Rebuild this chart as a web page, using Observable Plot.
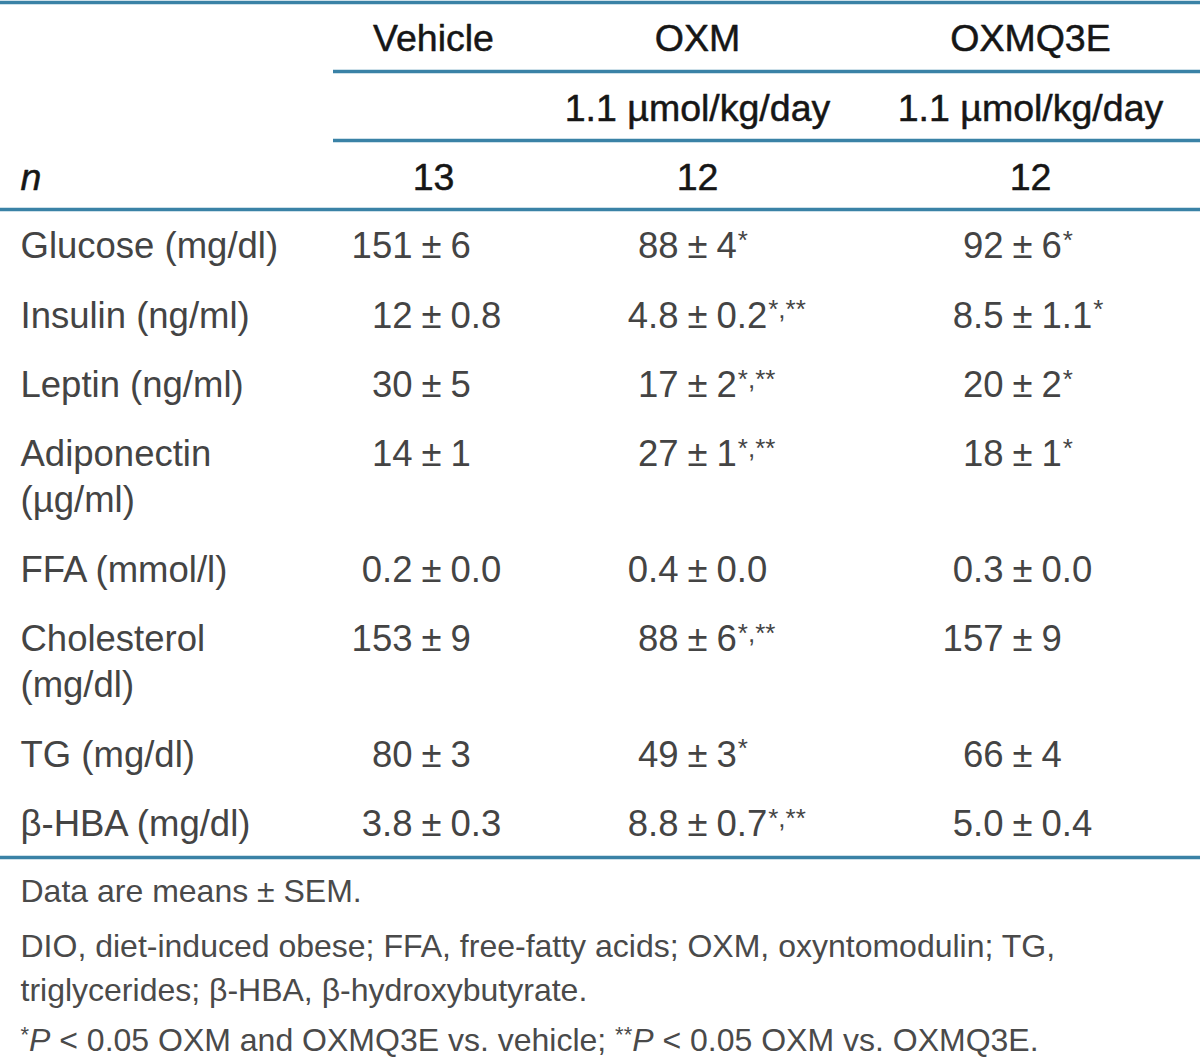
<!DOCTYPE html>
<html>
<head>
<meta charset="utf-8">
<script src="https://cdn.jsdelivr.net/npm/d3@7"></script>
<script src="https://cdn.jsdelivr.net/npm/@observablehq/plot@0.6"></script>
<style>
  html, body { margin: 0; padding: 0; background: #ffffff; }
  #chart svg { display: block; }
</style>
</head>
<body>
<div id="chart"></div>
<script>
// ---------- data ----------
const groups = ["Vehicle", "OXM", "OXMQ3E"];
const doses = ["", "1.1 µmol/kg/day", "1.1 µmol/kg/day"];
const nValues = ["13", "12", "12"];

const rowLabels = [
  ["Glucose (mg/dl)"],
  ["Insulin (ng/ml)"],
  ["Leptin (ng/ml)"],
  ["Adiponectin", "(µg/ml)"],
  ["FFA (mmol/l)"],
  ["Cholesterol", "(mg/dl)"],
  ["TG (mg/dl)"],
  ["β-HBA (mg/dl)"]
];

const vehicleMean = ["151", "12", "30", "14", "0.2", "153", "80", "3.8"];
const vehicleSEM  = ["6", "0.8", "5", "1", "0.0", "9", "3", "0.3"];
const vehicleSig  = ["", "", "", "", "", "", "", ""];

const oxmMean = ["88", "4.8", "17", "27", "0.4", "88", "49", "8.8"];
const oxmSEM  = ["4", "0.2", "2", "1", "0.0", "6", "3", "0.7"];
const oxmSig  = ["*", "*,**", "*,**", "*,**", "", "*,**", "*", "*,**"];

const oxmq3eMean = ["92", "8.5", "20", "18", "0.3", "157", "66", "5.0"];
const oxmq3eSEM  = ["6", "1.1", "2", "1", "0.0", "9", "4", "0.4"];
const oxmq3eSig  = ["*", "*", "*", "*", "", "", "", ""];

const footnotes = [
  [{t: "Data are means ± SEM."}],
  [{t: "DIO, diet-induced obese; FFA, free-fatty acids; OXM, oxyntomodulin; TG,"}],
  [{t: "triglycerides; β-HBA, β-hydroxybutyrate."}],
  [{t: "*", sup: true}, {t: "P", it: true}, {t: " < 0.05 OXM and OXMQ3E vs. vehicle; "},
   {t: "**", sup: true}, {t: "P", it: true}, {t: " < 0.05 OXM vs. OXMQ3E."}]
];

// ---------- layout ----------
const W = 1200, H = 1059;
const FONT = "Liberation Sans";
const bodySize = 36.5, headSize = 37.5, supSize = 26, noteSize = 32, noteSupSize = 22;
const headColor = "#161616", bodyColor = "#444444", noteColor = "#4a4a4a";
const lineColor = "#3a82a6";
const leftX = 20;
const colCenter = [433, 697, 1030];
const pmX = [431, 697, 1022];
const pmGap = 19;
const headerY = [38, 108, 177];
const firstRowY = 246, rowPitch = 69.4, extraLine = 46;
const noteY = [891, 946, 990, 1040];

const canvas = document.createElement("canvas");
const ctx = canvas.getContext("2d");
function textWidth(s, size, style = "normal") {
  ctx.font = `${style} ${size}px "${FONT}"`;
  return ctx.measureText(s).width;
}

// ---------- build mark data ----------
const headerText = [];
groups.forEach((g, i) => headerText.push({x: colCenter[i], y: headerY[0], text: g}));
doses.forEach((d, i) => { if (d) headerText.push({x: colCenter[i], y: headerY[1], text: d}); });
nValues.forEach((n, i) => headerText.push({x: colCenter[i], y: headerY[2], text: n}));

const labelText = [];
const leftParts = [], pmSigns = [], rightParts = [], supParts = [];
const cols = [
  [vehicleMean, vehicleSEM, vehicleSig],
  [oxmMean, oxmSEM, oxmSig],
  [oxmq3eMean, oxmq3eSEM, oxmq3eSig]
];
let yCur = firstRowY;
rowLabels.forEach((lines, r) => {
  lines.forEach((l, k) => labelText.push({x: leftX, y: yCur + k * extraLine, text: l}));
  cols.forEach(([mean, sem, sig], c) => {
    leftParts.push({x: pmX[c] - pmGap, y: yCur, text: mean[r]});
    pmSigns.push({x: pmX[c], y: yCur, text: "±"});
    rightParts.push({x: pmX[c] + pmGap, y: yCur, text: sem[r]});
    if (sig[r]) {
      supParts.push({x: pmX[c] + pmGap + textWidth(sem[r], bodySize) + 1, y: yCur - 6, text: sig[r]});
    }
  });
  yCur += rowPitch + extraLine * (lines.length - 1);
});

const noteNormal = [], noteItalic = [], noteSup = [];
footnotes.forEach((segs, i) => {
  let x = leftX;
  segs.forEach(s => {
    if (s.sup) {
      noteSup.push({x, y: noteY[i] - 6, text: s.t});
      x += textWidth(s.t, noteSupSize);
    } else if (s.it) {
      noteItalic.push({x, y: noteY[i], text: s.t});
      x += textWidth(s.t, noteSize, "italic");
    } else {
      noteNormal.push({x, y: noteY[i], text: s.t});
      x += textWidth(s.t, noteSize);
    }
  });
});

const rules = [
  {y: 2, x1: 0, x2: W},
  {y: 71, x1: 333, x2: W},
  {y: 140, x1: 333, x2: W},
  {y: 209, x1: 0, x2: W},
  {y: 857, x1: 0, x2: W}
];

const common = {x: "x", y: "y", text: "text", fontFamily: FONT};

const chart = Plot.plot({
  width: W,
  height: H,
  margin: 0,
  x: {type: "linear", domain: [0, W], range: [0, W], axis: null},
  y: {type: "linear", domain: [0, H], range: [0, H], axis: null},
  style: {background: "#ffffff", fontFamily: FONT},
  marks: [
    Plot.ruleY(rules, {y: "y", x1: "x1", x2: "x2", stroke: lineColor, strokeWidth: 3.5}),
    Plot.text(headerText, {...common, fontSize: headSize, fill: headColor, stroke: headColor, strokeWidth: 0.5, textAnchor: "middle"}),
    Plot.text([{x: leftX, y: headerY[2], text: "n"}], {...common, fontSize: headSize, fill: headColor, stroke: headColor, strokeWidth: 0.5, fontStyle: "italic", textAnchor: "start"}),
    Plot.text(labelText, {...common, fontSize: bodySize, fill: bodyColor, textAnchor: "start"}),
    Plot.text(leftParts, {...common, fontSize: bodySize, fill: bodyColor, textAnchor: "end"}),
    Plot.text(pmSigns, {...common, fontSize: bodySize, fill: bodyColor, textAnchor: "middle"}),
    Plot.text(rightParts, {...common, fontSize: bodySize, fill: bodyColor, textAnchor: "start"}),
    Plot.text(supParts, {...common, fontSize: supSize, fill: bodyColor, textAnchor: "start"}),
    Plot.text(noteNormal, {...common, fontSize: noteSize, fill: noteColor, textAnchor: "start"}),
    Plot.text(noteItalic, {...common, fontSize: noteSize, fill: noteColor, fontStyle: "italic", textAnchor: "start"}),
    Plot.text(noteSup, {...common, fontSize: noteSupSize, fill: noteColor, textAnchor: "start"})
  ]
});
document.getElementById("chart").appendChild(chart);
</script>
</body>
</html>
